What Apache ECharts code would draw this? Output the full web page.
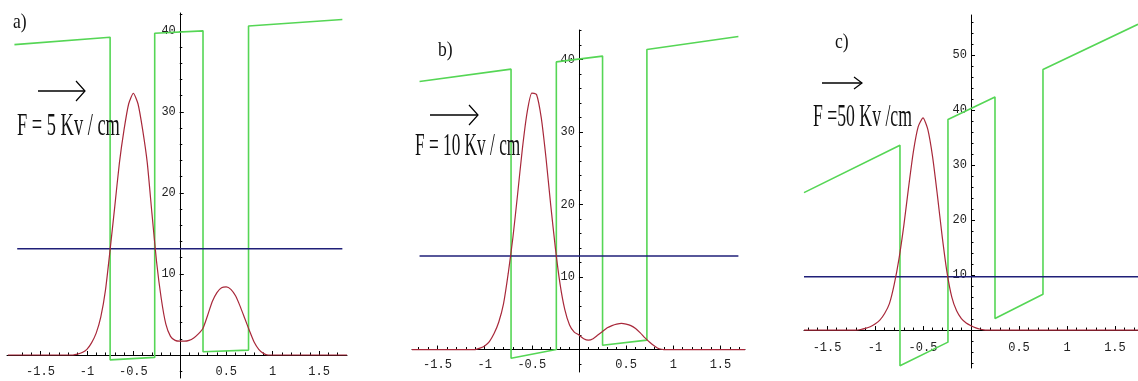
<!DOCTYPE html>
<html><head><meta charset="utf-8">
<script src="https://cdn.jsdelivr.net/npm/echarts@6/dist/echarts.min.js"></script>
<style>html,body{margin:0;padding:0;background:#fff}#c{width:1138px;height:381px}</style>
</head><body><div id="c"></div>
<script>
// ---------- data ----------
const panelLabels = ['a)', 'b)', 'c)'];
const fieldLabels = ['F = 5 Kv / cm', 'F = 10 Kv / cm', 'F =50 Kv /cm'];
const xTickLabels = [-1.5, -1, -0.5, 0.5, 1, 1.5];
const yTickLabelsAB = [10, 20, 30, 40];
const yTickLabelsC = [10, 20, 30, 40, 50];

// panel a) F = 5 kV/cm
const potentialA = [[-1.78, 38.3], [-0.75, 39.2], [-0.75, -0.6], [-0.27, -0.3], [-0.27, 39.7], [0.25, 40.0], [0.25, 0.4], [0.74, 0.6], [0.74, 40.6], [1.75, 41.4]];
const levelA = [[-1.75, 13.1], [1.75, 13.1]];
const waveA = [[-1.85, 0], [-1.15, 0], [-1.1, 0.1], [-1.05, 0.3], [-1.0, 0.7], [-0.95, 1.5], [-0.9, 2.7], [-0.85, 4.7], [-0.8, 8], [-0.75, 13], [-0.7, 18.3], [-0.65, 23.7], [-0.6, 27.8], [-0.55, 31], [-0.5, 32.3], [-0.45, 31], [-0.4, 27.8], [-0.35, 23.7], [-0.3, 17.5], [-0.25, 11.5], [-0.2, 7], [-0.15, 3.8], [-0.1, 2.3], [-0.05, 1.8], [0, 1.7], [0.05, 1.7], [0.1, 1.8], [0.15, 2.1], [0.2, 2.6], [0.25, 3.3], [0.3, 4.9], [0.35, 6.6], [0.4, 7.7], [0.45, 8.3], [0.5, 8.4], [0.55, 8.1], [0.6, 7.3], [0.65, 6], [0.7, 4.5], [0.75, 3], [0.8, 1.6], [0.85, 0.7], [0.9, 0.2], [0.95, 0], [1.8, 0]];

// panel b) F = 10 kV/cm
const potentialB = [[-1.69, 37.0], [-0.72, 38.7], [-0.72, -1.2], [-0.24, 0], [-0.24, 39.7], [0.25, 40.5], [0.25, 0.6], [0.72, 1.3], [0.72, 41.4], [1.69, 43.2]];
const levelB = [[-1.69, 12.9], [1.69, 12.9]];
const waveB = [[-1.77, 0], [-1.1, 0], [-1.05, 0.2], [-1.0, 0.5], [-0.95, 1.1], [-0.9, 2.2], [-0.85, 3.8], [-0.8, 6.3], [-0.75, 10.5], [-0.7, 15.5], [-0.65, 21.5], [-0.6, 27.7], [-0.55, 32.7], [-0.5, 35.4], [-0.45, 35.2], [-0.4, 32], [-0.35, 26.5], [-0.3, 20], [-0.25, 14], [-0.2, 9], [-0.15, 5.5], [-0.1, 3.4], [-0.05, 2.4], [0, 2.0], [0.05, 1.5], [0.1, 1.3], [0.15, 1.5], [0.2, 2], [0.25, 2.5], [0.3, 3], [0.35, 3.3], [0.4, 3.5], [0.45, 3.6], [0.5, 3.5], [0.55, 3.3], [0.6, 2.9], [0.65, 2.3], [0.7, 1.6], [0.75, 1], [0.8, 0.5], [0.85, 0.1], [0.9, 0], [1.76, 0]];

// panel c) F = 50 kV/cm
const potentialC = [[-1.74, 25.0], [-0.74, 33.6], [-0.74, -6.5], [-0.24, -2.2], [-0.24, 38.3], [0.25, 42.4], [0.25, 2.1], [0.75, 6.5], [0.75, 47.4], [1.74, 55.6]];
const levelC = [[-1.74, 9.7], [1.74, 9.7]];
const waveC = [[-1.74, 0], [-1.2, 0], [-1.15, 0.1], [-1.1, 0.3], [-1.05, 0.6], [-1.0, 1.1], [-0.95, 1.8], [-0.9, 3], [-0.85, 4.8], [-0.8, 8.3], [-0.75, 13], [-0.7, 19], [-0.65, 26], [-0.6, 32.5], [-0.55, 37], [-0.5, 38.6], [-0.45, 36.5], [-0.4, 31.5], [-0.35, 24.5], [-0.3, 17], [-0.25, 10.5], [-0.2, 6], [-0.15, 3.5], [-0.1, 2.1], [-0.05, 1.3], [0, 0.8], [0.05, 0.4], [0.1, 0.15], [0.15, 0], [1.74, 0]];

// ---------- layout ----------
function steps(a, b, s) { const r = []; for (let v = a; v <= b + 1e-9; v += s) r.push(Math.round(v * 100) / 100); return r; }

const panels = [
  { grid: { left: 7, top: 13, width: 340, height: 365 }, x: [-1.86, 1.8], y: [-2.84, 42.2], yLabels: yTickLabelsAB, yMinor: steps(-2, 42, 2), xMargin: 11,
    pot: potentialA, lvl: levelA, wave: waveA },
  { grid: { left: 412, top: 30, width: 333, height: 342 }, x: [-1.77, 1.76], y: [-3.1, 44.1], yLabels: yTickLabelsAB, yMinor: steps(-2, 44, 2), xMargin: 9,
    pot: potentialB, lvl: levelB, wave: waveB },
  { grid: { left: 804, top: 15, width: 334, height: 353 }, x: [-1.74, 1.74], y: [-6.9, 57.3], yLabels: yTickLabelsC, yMinor: steps(-6, 56, 2), xMargin: 12,
    pot: potentialC, lvl: levelC, wave: waveC }
];

const grids = [], xAxes = [], yAxes = [], series = [];
const lblFont = { fontFamily: 'Liberation Mono', fontSize: 12, color: '#222' };
panels.forEach((p, i) => {
  grids.push(Object.assign({ containLabel: false, outerBoundsMode: 'none' }, p.grid));
  const g = p.grid;
  // place axes through the origin using offsets (axis lines cross at 0,0)
  const yOff = -(g.width * (0 - p.x[0]) / (p.x[1] - p.x[0]));
  const xOff = -(g.height * (0 - p.y[0]) / (p.y[1] - p.y[0]));
  const xi = 2 * i, yi = 2 * i;
  xAxes.push({ type: 'value', gridIndex: i, position: 'bottom', offset: xOff, min: p.x[0], max: p.x[1], z: 3,
    axisLine: { show: true, onZero: false, lineStyle: { color: '#000', width: 1 } },
    axisTick: { show: true, inside: true, length: 4, customValues: xTickLabels, lineStyle: { color: '#000' } },
    axisLabel: Object.assign({ show: true, margin: p.xMargin, customValues: xTickLabels, formatter: v => String(v) }, lblFont),
    splitLine: { show: false } });
  xAxes.push({ type: 'value', gridIndex: i, position: 'bottom', offset: xOff, min: p.x[0], max: p.x[1], z: 3,
    axisLine: { show: false, onZero: false },
    axisTick: { show: true, inside: true, length: 2.5, customValues: steps(-1.7, 1.7, 0.1), lineStyle: { color: '#000' } },
    axisLabel: { show: false }, splitLine: { show: false } });
  yAxes.push({ type: 'value', gridIndex: i, position: 'left', offset: yOff, min: p.y[0], max: p.y[1], z: 3,
    axisLine: { show: true, onZero: false, lineStyle: { color: '#000', width: 1 } },
    axisTick: { show: true, inside: true, length: 4, customValues: p.yLabels, lineStyle: { color: '#000' } },
    axisLabel: Object.assign({ show: true, margin: 4, customValues: p.yLabels }, lblFont),
    splitLine: { show: false } });
  yAxes.push({ type: 'value', gridIndex: i, position: 'left', offset: yOff, min: p.y[0], max: p.y[1], z: 3,
    axisLine: { show: false, onZero: false },
    axisTick: { show: true, inside: true, length: 2.5, customValues: p.yMinor, lineStyle: { color: '#000' } },
    axisLabel: { show: false }, splitLine: { show: false } });

  const common = { type: 'line', xAxisIndex: xi, yAxisIndex: yi, symbol: 'none', silent: true, animation: false };
  series.push(Object.assign({}, common, { name: 'V' + i, data: p.pot, lineStyle: { color: '#55d655', width: 1.6 } }));
  series.push(Object.assign({}, common, { name: 'E' + i, data: p.lvl, lineStyle: { color: '#1f1f78', width: 1.6 } }));
  series.push(Object.assign({}, common, { name: 'psi' + i, data: p.wave, smooth: 0.2, lineStyle: { color: '#a8283a', width: 1.2 } }));
});

// annotations
const serif = 'Liberation Serif';
function label(txt, x, y, size, sx) {
  return { type: 'text', x: x, y: y, scaleX: sx, z: 10,
    style: { text: txt, font: size + 'px "' + serif + '"', fill: '#111', textAlign: 'left', align: 'left', textVerticalAlign: 'middle', verticalAlign: 'middle' } };
}
function arrow(x1, x2, y, h, w) {
  return [
    { type: 'polyline', z: 10, shape: { points: [[x1, y], [x2, y]] }, style: { stroke: '#000', lineWidth: 1.4, fill: null } },
    { type: 'polyline', z: 10, shape: { points: [[x2 - w, y - h], [x2, y], [x2 - w, y + h]] }, style: { stroke: '#000', lineWidth: 1.2, fill: null } }
  ];
}
const graphic = [
  label(panelLabels[0], 13, 22, 22, 0.8),
  label(panelLabels[1], 438, 50, 22, 0.8),
  label(panelLabels[2], 835, 42, 22, 0.8),
  label(fieldLabels[0], 17, 127, 32, 0.575),
  label(fieldLabels[1], 415, 147, 32, 0.54),
  label(fieldLabels[2], 813, 118, 32, 0.553)
].concat(arrow(38, 85, 91, 10, 9), arrow(430, 478, 115, 10, 9), arrow(822, 862, 83, 6, 8));

const chart = echarts.init(document.getElementById('c'), null, { renderer: 'canvas' });
chart.setOption({
  backgroundColor: '#fff',
  animation: false,
  grid: grids, xAxis: xAxes, yAxis: yAxes, series: series, graphic: graphic
});
</script>
</body></html>
